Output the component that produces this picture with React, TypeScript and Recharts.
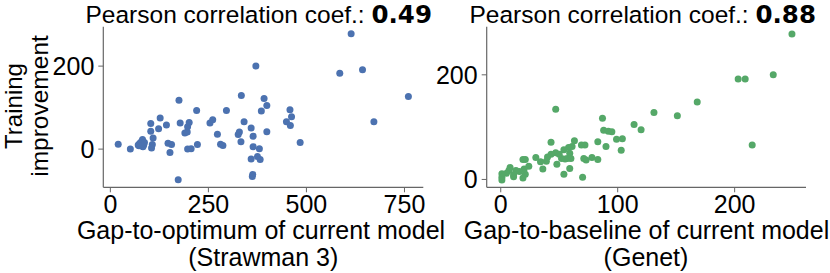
import React from "react";
import { ScatterChart, Scatter, XAxis, YAxis } from "recharts";

// Left panel: Strawman 3 (gap-to-optimum vs training improvement)
const strawX = [20, 51, 71, 75, 79, 82, 85, 83, 73, 78, 87, 103, 103, 109, 107, 105, 123, 127, 143, 147, 156, 152, 173, 175, 178, 190, 196, 197, 201, 197, 206, 220, 222, 254, 261, 273, 281, 287, 296, 326, 329, 333, 334, 341, 359, 364, 364, 359, 363, 362, 371, 375, 380, 382, 385, 392, 399, 399, 449, 458, 462, 459, 484, 585, 614, 643, 672, 760];
const strawY = [12, 0, 10, 14, 18, 23, 10, 6, 8, 12, 16, 62, 43, 27, 11, 3, 49, 75, 58, 14, 11, -8, -74, 118, 63, 39, 41, 54, 64, 0, 1, 93, 11, 63, 71, 36, 12, 9, 93, 35, 41, 18, 129, 66, 51, 31, 6, -24, -61, -66, 200, -18, 1, -25, 92, 122, 105, 42, 66, 95, 78, 57, 16, 183, 278, 191, 66, 127];

// Right panel: Genet (gap-to-baseline vs training improvement)
const genetX = [249, 233, 203, 209, 215, 168, 151, 131, 114, 120, 104, 99, 103, 87, 88, 92, 95, 83, 90, 83, 78, 73, 71, 70, 72, 69, 63, 61, 58, 54, 59, 60, 57, 52, 47, 43, 47, 43, 40, 39, 48, 59, 54, 36, 34, 30, 24, 21, 19, 21, 19, 20, 16, 13, 11, 8, 7, 5, 1, 1, 1, 11, 50, 55];
const genetY = [278, 200, 192, 192, 66, 148, 122, 128, 105, 95, 78, 77, 56, 117, 94, 92, 91, 72, 63, 38, 42, 37, 40, 4, 66, 66, 74, 63, 61, 57, 50, 40, 40, 40, 134, 71, 51, 48, 43, 35, 29, 21, 10, 20, 34, 42, 25, 38, 38, 10, 3, 20, 15, 17, 5, 23, 17, 12, 11, 4, -1, 9, 48, 39];

const strawTicksX = [0, 250, 500, 750];
const strawTicksY = [0, 200];
const genetTicksX = [0, 100, 200];
const genetTicksY = [0, 200];

const strawData = strawX.map((x, i) => ({ x, y: strawY[i] }));
const genetData = genetX.map((x, i) => ({ x, y: genetY[i] }));

const FONT = "'Liberation Sans', Arial, sans-serif";
const FS = 25;
const AXIS = "#666666";
const tickStyle = { fontSize: FS, fill: "#000", fontFamily: FONT };

const dot = (color: string) => (props: any) =>
  <circle cx={props.cx} cy={props.cy} r={3.5} fill={color} />;

export default function App() {
  return (
    <div style={{ position: "absolute", left: 0, top: 0, width: 830, height: 273, overflow: "hidden", background: "#fff" }}>
      <div style={{ position: "absolute", left: 0, top: 0 }}>
        <ScatterChart width={430} height={273} margin={{ top: 26.7, right: 6.7, bottom: 0, left: 43.3 }}>
          <XAxis type="number" dataKey="x" domain={[-18, 798]} ticks={strawTicksX} allowDataOverflow
            height={85.7} tickSize={5} tickMargin={3} tick={tickStyle}
            axisLine={{ stroke: AXIS, strokeWidth: 1.2 }} tickLine={{ stroke: AXIS }} interval={0} />
          <YAxis type="number" dataKey="y" domain={[-92, 295]} ticks={strawTicksY} allowDataOverflow
            width={60} tickSize={5} tickMargin={4} tick={tickStyle}
            axisLine={{ stroke: AXIS, strokeWidth: 1.2 }} tickLine={{ stroke: AXIS }} interval={0} />
          <Scatter data={strawData} fill="#4C72B0" shape={dot("#4C72B0")} isAnimationActive={false} />
        </ScatterChart>
      </div>
      <div style={{ position: "absolute", left: 430, top: 0 }}>
        <ScatterChart width={400} height={273} margin={{ top: 26.7, right: 24, bottom: 0, left: 6.7 }}>
          <XAxis type="number" dataKey="x" domain={[-12, 261]} ticks={genetTicksX} allowDataOverflow
            height={85.7} tickSize={5} tickMargin={3} tick={tickStyle}
            axisLine={{ stroke: AXIS, strokeWidth: 1.2 }} tickLine={{ stroke: AXIS }} interval={0} />
          <YAxis type="number" dataKey="y" domain={[-15, 292]} ticks={genetTicksY} allowDataOverflow
            width={50} tickSize={5} tickMargin={4} tick={tickStyle}
            axisLine={{ stroke: AXIS, strokeWidth: 1.2 }} tickLine={{ stroke: AXIS }} interval={0} />
          <Scatter data={genetData} fill="#55A868" shape={dot("#55A868")} isAnimationActive={false} />
        </ScatterChart>
      </div>
      <svg width={830} height={273} style={{ position: "absolute", left: 0, top: 0, pointerEvents: "none" }}>
        <g fontFamily={FONT} fontSize={FS} fill="#000">
          <text x={85.5} y={22.5} fontSize={24.5}>
            Pearson correlation coef.: <tspan fontFamily="'DejaVu Sans', sans-serif" fontWeight="bold">0.49</tspan>
          </text>
          <text x={469.5} y={22.5} fontSize={24.5}>
            Pearson correlation coef.: <tspan fontFamily="'DejaVu Sans', sans-serif" fontWeight="bold">0.88</tspan>
          </text>
          <text x={261} y={239} textAnchor="middle">Gap-to-optimum of current model</text>
          <text x={263.3} y={266} textAnchor="middle">(Strawman 3)</text>
          <text x={646.5} y={239} textAnchor="middle">Gap-to-baseline of current model</text>
          <text x={646} y={266} textAnchor="middle">(Genet)</text>
          <text transform="translate(22,106) rotate(-90)" textAnchor="middle" fontSize={24}>Training</text>
          <text transform="translate(47.5,106) rotate(-90)" textAnchor="middle" fontSize={24.5}>improvement</text>
        </g>
      </svg>
    </div>
  );
}
